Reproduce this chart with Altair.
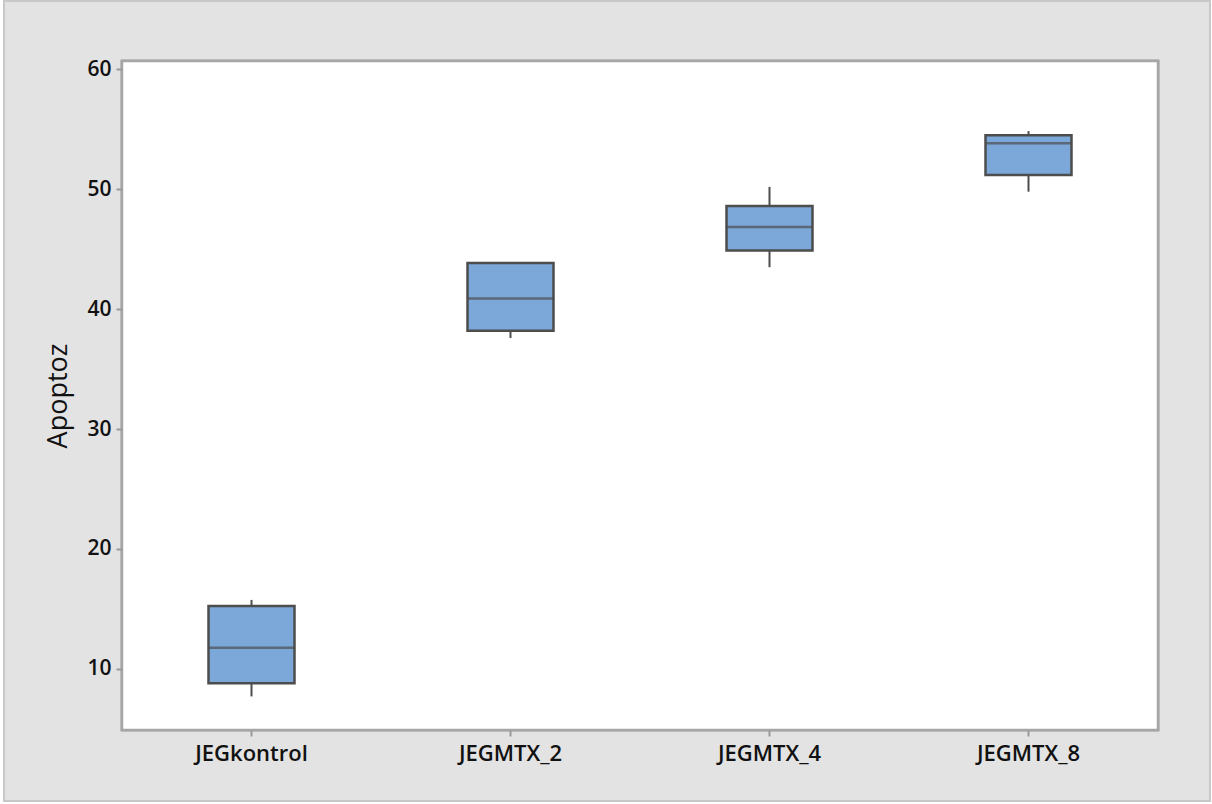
import altair as alt
import pandas as pd

# Five-number summaries of apoptosis (%) per group
groups = ["JEGkontrol", "JEGMTX_2", "JEGMTX_4", "JEGMTX_8"]
whisker_low = [7.7, 37.6, 43.5, 49.8]
q1 = [8.8, 38.2, 44.9, 51.2]
median = [11.75, 40.9, 46.85, 53.85]
q3 = [15.25, 43.85, 48.6, 54.5]
whisker_high = [15.75, 43.85, 50.2, 54.85]

df = pd.DataFrame({
    "group": groups,
    "lo": whisker_low,
    "q1": q1,
    "med": median,
    "q3": q3,
    "hi": whisker_high,
})

W, H = 1036, 669
BOX_W = 86
INK = "#4d4d4d"
FONT = "Open Sans"

x = alt.X("group:N", sort=groups, title=None,
          scale=alt.Scale(paddingInner=0, paddingOuter=0),
          axis=alt.Axis(labelAngle=0, labelFont=FONT, labelFontSize=22,
                        labelFontWeight=600, labelColor="#111111",
                        labelPadding=7, tickSize=6, tickColor="#9a9a9a",
                        tickWidth=2, domain=False, zindex=1))
y = alt.Y("lo:Q", title="Apoptoz",
          scale=alt.Scale(domain=[4.9, 60.7], nice=False, zero=False),
          axis=alt.Axis(values=[10, 20, 30, 40, 50, 60], grid=False,
                        labelFont=FONT, labelFontSize=21, labelFontWeight=600,
                        labelColor="#111111", labelPadding=5,
                        tickSize=6, tickColor="#9a9a9a", tickWidth=2,
                        domain=False, titleFont=FONT, titleFontSize=27,
                        titleFontWeight=500, titleColor="#111111",
                        titlePadding=14, zindex=1))

base = alt.Chart(df)

# gray outer panel and white plotting area
panel = base.mark_rect(fill="#e3e3e3", stroke="#c8c8c8", strokeWidth=2,
                       clip=False).encode(
    x=alt.value(-118), x2=alt.value(1088),
    y=alt.value(-60), y2=alt.value(740))
plot_area = base.mark_rect(fill="white", stroke="#a6a6a6", strokeWidth=2.5,
                           clip=False).encode(
    x=alt.value(0), x2=alt.value(W), y=alt.value(0), y2=alt.value(H))

whiskers = base.mark_rule(color=INK, strokeWidth=2).encode(
    x=x, y=y, y2="hi:Q")
boxes = base.mark_bar(size=BOX_W, color="#7ba7d9", stroke=INK,
                      strokeWidth=2.5).encode(
    x=x, y="q1:Q", y2="q3:Q")
medians = base.mark_tick(size=BOX_W, thickness=2.5, color=INK).encode(
    x=x, y="med:Q")

chart = alt.layer(panel, plot_area, whiskers, boxes, medians).properties(
    width=W, height=H,
    autosize=alt.AutoSizeParams(type="none"),
    padding={"left": 122, "top": 61, "right": 54, "bottom": 74},
    background="white",
).configure_view(stroke=None, fill=None)

chart.save("out.html", embed_options={"renderer": "svg", "actions": False})
